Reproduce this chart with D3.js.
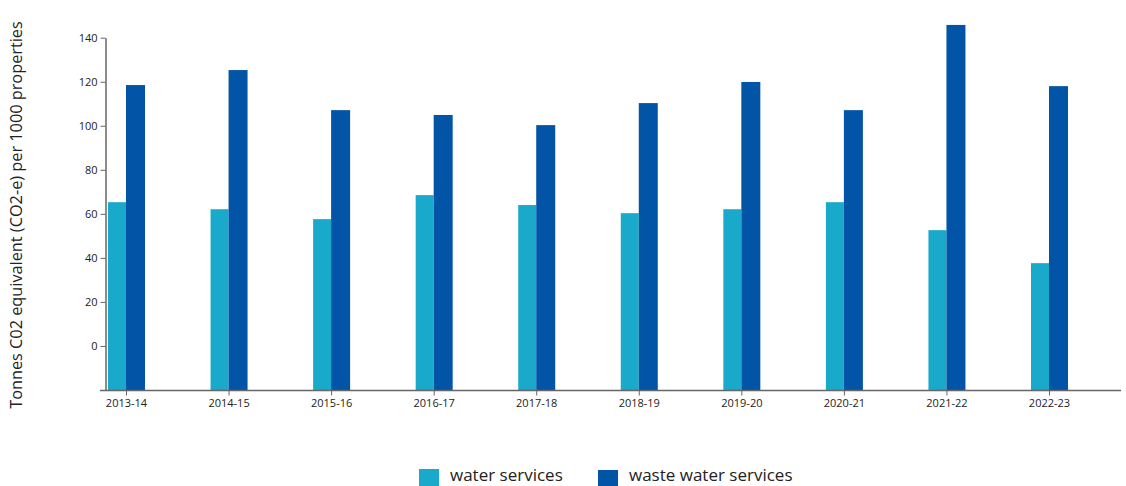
<!DOCTYPE html>
<html>
<head>
<meta charset="utf-8">
<script src="https://cdn.jsdelivr.net/npm/d3@7"></script>
<style>
  body { margin: 0; background: #fff; }
  svg text { font-family: "Open Sans", sans-serif; fill: #222; }
</style>
</head>
<body>
<div id="chart"></div>
<script>
const years = ["2013-14", "2014-15", "2015-16", "2016-17", "2017-18", "2018-19", "2019-20", "2020-21", "2021-22", "2022-23"];
const waterServices = [65.3, 62.1, 57.6, 68.5, 64.0, 60.3, 62.1, 65.3, 52.6, 37.6];
const wasteWaterServices = [118.5, 125.3, 107.1, 104.9, 100.3, 110.3, 119.9, 107.1, 145.8, 118.0];
const yTicks = [0, 20, 40, 60, 80, 100, 120, 140];
const seriesNames = ["water services", "waste water services"];
const colors = ["#19aacb", "#0255a6"];

const width = 1126, height = 486;
const svg = d3.select("#chart").append("svg")
	.attr("width", width)
	.attr("height", height);

const x = d3.scalePoint()
	.domain(years)
	.range([126, 1049]);

const y = d3.scaleLinear()
	.domain([-20, 140])
	.range([390, 37.7]);

const barW = 18;

// y axis
const yAxis = svg.append("g")
	.attr("transform", "translate(105.5,0)")
	.call(d3.axisLeft(y).tickValues(yTicks).tickSize(5).tickSizeOuter(0));
yAxis.select(".domain").attr("stroke", "#666").attr("stroke-width", 1.5);
yAxis.selectAll(".tick line").attr("stroke", "#666");
yAxis.selectAll(".tick text").style("font-size", "11px").attr("x", -8).attr("fill", "#222");

// x axis
const xAxis = svg.append("g")
	.attr("transform", "translate(0,390.5)")
	.call(d3.axisBottom(x).tickSize(5).tickSizeOuter(0));
xAxis.select(".domain").remove();
xAxis.selectAll(".tick line").attr("stroke", "#666");
xAxis.selectAll(".tick text").style("font-size", "11px").attr("y", 9).attr("fill", "#222");

// bars
svg.append("g").selectAll("rect")
	.data(years).enter()
	.append("rect")
	.attr("x", d => x(d) - barW)
	.attr("y", (d, i) => y(waterServices[i]))
	.attr("width", barW)
	.attr("height", (d, i) => y(-20) - y(waterServices[i]))
	.attr("fill", colors[0]);

svg.append("g").selectAll("rect")
	.data(years).enter()
	.append("rect")
	.attr("x", d => x(d))
	.attr("y", (d, i) => y(wasteWaterServices[i]))
	.attr("width", barW + 1)
	.attr("height", (d, i) => y(-20) - y(wasteWaterServices[i]))
	.attr("fill", colors[1]);

// x axis line on top of bars
svg.append("line")
	.attr("x1", 100).attr("x2", 1121)
	.attr("y1", 390.5).attr("y2", 390.5)
	.attr("stroke", "#666").attr("stroke-width", 1.5);

// y axis title
svg.append("text")
	.attr("transform", "translate(22,215) rotate(-90)")
	.attr("text-anchor", "middle")
	.style("font-size", "16.3px")
	.text("Tonnes C02 equivalent (CO2-e) per 1000 properties");

// legend
const legendX = [419, 598];
const legend = svg.append("g");
seriesNames.forEach((name, i) => {
	legend.append("rect")
		.attr("x", legendX[i])
		.attr("y", 469 + i)
		.attr("width", 20)
		.attr("height", 18)
		.attr("fill", colors[i]);
	legend.append("text")
		.attr("x", legendX[i] + 31)
		.attr("y", 481)
		.style("font-size", "17px")
		.text(name);
});
</script>
</body>
</html>
